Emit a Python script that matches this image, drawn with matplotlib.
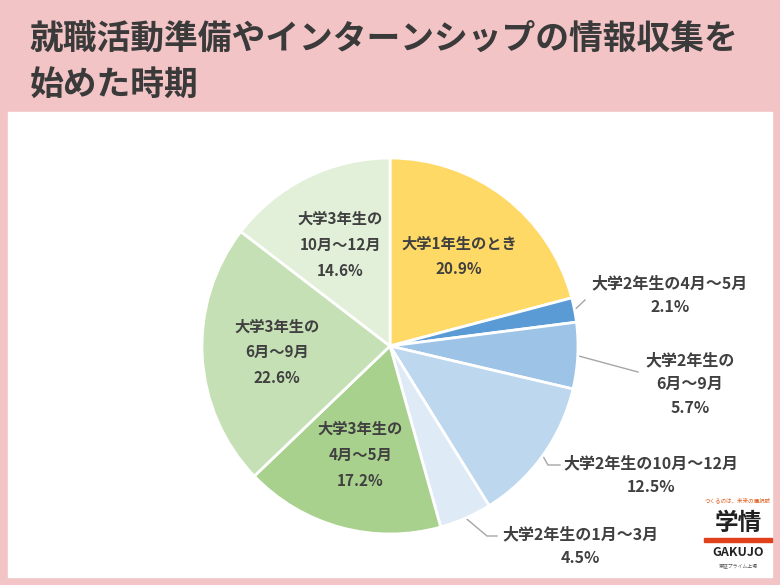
import matplotlib.pyplot as plt
import matplotlib.patches as mpatches
import numpy as np

plt.rcParams["font.family"] = "Noto Sans CJK JP"

labels = ["大学1年生のとき", "大学2年生の4月～5月", "大学2年生の\n6月～9月", "大学2年生の10月～12月",
          "大学2年生の1月～3月", "大学3年生の\n4月～5月", "大学3年生の\n6月～9月", "大学3年生の\n10月～12月"]
values = [20.9, 2.1, 5.7, 12.5, 4.5, 17.2, 22.6, 14.6]
colors = ["#FFD966", "#5B9BD5", "#9DC3E6", "#BDD7EE", "#DEEBF7", "#A9D18E", "#C5E0B4", "#E2F0D9"]
inside = [True, False, False, False, False, True, True, True]

W, H = 780, 585
fig = plt.figure(figsize=(W / 100, H / 100), dpi=100)
fig.patch.set_facecolor("#F2C4C6")
bg = fig.add_axes([0, 0, 1, 1])
bg.set_xlim(0, W)
bg.set_ylim(H, 0)
bg.axis("off")
bg.add_patch(mpatches.Rectangle((8, 112), 764, 465, color="white"))
bg.text(30, 38, "就職活動準備やインターンシップの情報収集を", fontsize=24.3, fontweight="bold",
        color="#3a3a3a", va="center")
bg.text(30, 84, "始めた時期", fontsize=24.3, fontweight="bold", color="#3a3a3a", va="center")
# logo
bg.text(738, 500, "つくるのは、未来の選択肢", fontsize=4, color="#E06020", ha="center", va="center")
bg.text(738, 523, "学情", fontsize=17, color="#222222", ha="center", va="center", fontweight="bold")
bg.add_patch(mpatches.Rectangle((704, 538), 68, 4, color="#E0401A"))
bg.text(738, 553, "GAKUJO", fontsize=9, color="#222222", ha="center", va="center", fontweight="bold")
bg.text(738, 566, "東証プライム上場", fontsize=3.5, color="#555555", ha="center", va="center")

r = 188
cx, cy = 390, 346
ax = fig.add_axes([(cx - r) / W, 1 - (cy + r) / H, 2 * r / W, 2 * r / H])
wedges, _ = ax.pie(values, colors=colors, startangle=90, counterclock=False, radius=1,
                   wedgeprops=dict(edgecolor="white", linewidth=2))
ax.set_xlim(-1, 1)
ax.set_ylim(-1, 1)
ax.axis("off")

out_pos = {1: (670, 295), 2: (690, 384), 3: (651, 475), 4: (580, 546)}
leaders = {1: [(585, 300)], 2: [(638, 372)], 3: [(548, 465), (560, 465)], 4: [(487, 536), (497, 536)]}
for i, w in enumerate(wedges):
    mid = np.deg2rad((w.theta1 + w.theta2) / 2)
    txt = f"{labels[i]}\n{values[i]}%"
    if inside[i]:
        ax.text(0.6 * np.cos(mid), 0.6 * np.sin(mid), txt, ha="center", va="center",
                fontsize=11, fontweight="bold", color="#404040", linespacing=1.75)
    else:
        px, py = out_pos[i]
        bg.text(px, py, txt, ha="center", va="center", fontsize=11.5, fontweight="bold",
                color="#404040", linespacing=1.6)
        ex, ey = cx + r * np.cos(mid), cy - r * np.sin(mid)
        xs, ys = zip(*([(ex, ey)] + leaders[i]))
        bg.plot(xs, ys, color="#A6A6A6", lw=1)

fig.savefig("out.png", dpi=100, facecolor=fig.get_facecolor())
